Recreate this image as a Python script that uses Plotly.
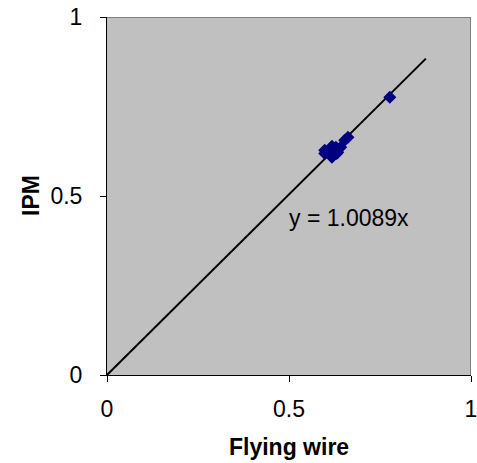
import plotly.graph_objects as go

# readings
flying_wire = [0.598, 0.598, 0.609, 0.618, 0.618, 0.629, 0.631, 0.634, 0.642, 0.653, 0.662, 0.777]
ipm = [0.628, 0.619, 0.622, 0.639, 0.608, 0.636, 0.619, 0.622, 0.636, 0.656, 0.664, 0.776]
slope = 1.0089
fit_x = [0.0, 0.876]
tick_vals = [0, 0.5, 1]
tick_text = ["0", "0.5", "1"]

font = "Liberation Sans, Arial, sans-serif"
fsize = 23

fig = go.Figure()
fig.add_trace(go.Scatter(
    x=fit_x, y=[slope * v for v in fit_x], mode="lines",
    line=dict(color="black", width=2), showlegend=False, hoverinfo="skip"))
fig.add_trace(go.Scatter(
    x=flying_wire, y=ipm, mode="markers",
    marker=dict(symbol="diamond", size=10, color="#000080",
                line=dict(width=0)),
    showlegend=False))

axis = dict(range=[0, 1], tickvals=tick_vals, ticktext=tick_text,
            ticks="outside", ticklen=6, tickcolor="black", tickwidth=1,
            showline=True, linecolor="black", linewidth=1,
            showgrid=False, zeroline=False, automargin=False,
            ticklabeloverflow="allow",
            tickfont=dict(family=font, size=fsize, color="black"))

fig.update_layout(
    width=477, height=463,
    margin=dict(l=107, r=6, t=17, b=88, autoexpand=False),
    paper_bgcolor="white", plot_bgcolor="#C0C0C0",
    xaxis=dict(axis, ticklabelstandoff=7),
    yaxis=dict(axis, ticklabelstandoff=13),
    shapes=[
        dict(type="line", xref="x", yref="y", x0=0, x1=1, y0=1, y1=1,
             line=dict(color="#808080", width=2)),
        dict(type="line", xref="x", yref="y", x0=1, x1=1, y0=0, y1=1,
             line=dict(color="#808080", width=2)),
    ],
    annotations=[
        dict(x=0.664, y=0.439, xref="x", yref="y", text="y = 1.0089x",
             showarrow=False, font=dict(family=font, size=fsize, color="black")),
        dict(x=0.5, y=0, xref="paper", yref="paper", yanchor="middle",
             yshift=-72, text="<b>Flying wire</b>", showarrow=False,
             font=dict(family=font, size=fsize, color="black")),
        dict(x=0, y=0.5, xref="paper", yref="paper", xanchor="center",
             xshift=-76, text="<b>IPM</b>", textangle=-90, showarrow=False,
             font=dict(family=font, size=fsize, color="black")),
    ],
)

# drop the browser's default 8px body margin so the figure fills the window
fig.write_html("out.html", config={"displayModeBar": False},
               post_script="document.body.style.margin='0';")
